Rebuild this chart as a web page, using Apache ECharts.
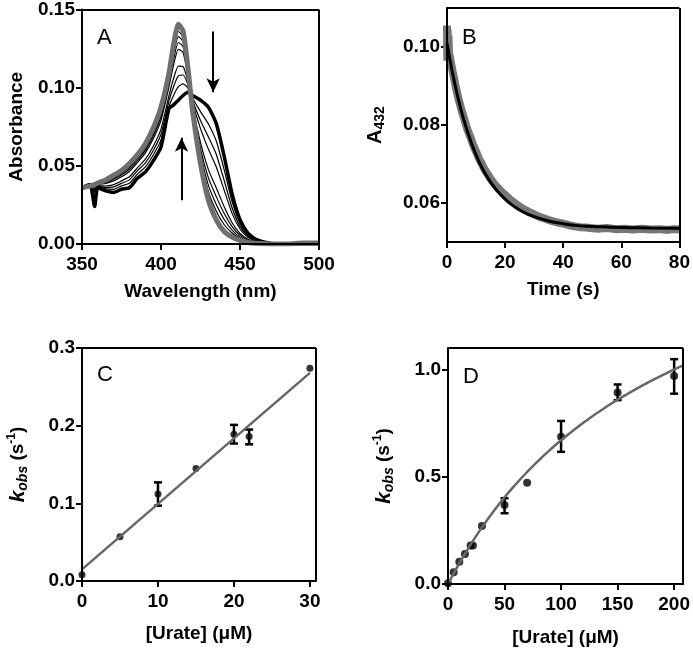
<!DOCTYPE html>
<html>
<head>
<meta charset="utf-8">
<script src="https://cdn.jsdelivr.net/npm/echarts@6/dist/echarts.min.js"></script>
<style>
  html, body { margin: 0; padding: 0; background: #fff; }
  #main { width: 693px; height: 649px; }
</style>
</head>
<body>
<div id="main"></div>
<script>
// ---- panel A : spectra ----
const aWave = [350,355,358,360,365,370,375,380,385,390,395,400,405,408,411,414,417,420,425,430,435,440,445,450,455,460,470,480,490,500];
const aStart = [0.036,0.037,0.038,0.039,0.041,0.044,0.047,0.0515,0.057,0.064,0.074,0.0875,0.109,0.128,0.1405,0.136,0.113,0.085,0.0515,0.028,0.0155,0.008,0.0045,0.0023,0.001,0.0005,0,0,0.0006,0.0006];
const aEnd = [0.036,0.038,0.024,0.036,0.034,0.033,0.035,0.036,0.042,0.046,0.053,0.062,0.0865,0.089,0.092,0.095,0.097,0.095,0.092,0.0875,0.077,0.056,0.032,0.0155,0.007,0.003,0.0003,0,0,0];
const aMid = [
  [0.036,0.037,0.036,0.0387,0.0404,0.043,0.0459,0.0501,0.0557,0.0624,0.0721,0.0852,0.1067,0.1244,0.1361,0.1323,0.1116,0.0859,0.0551,0.0334,0.021,0.0123,0.007,0.0035,0.0015,0.0007,0,0,0.0005,0.0005],
  [0.036,0.037,0.036,0.0385,0.0399,0.0422,0.0451,0.049,0.0546,0.0611,0.0706,0.0834,0.1048,0.1216,0.1327,0.1294,0.1104,0.0866,0.058,0.0375,0.0253,0.0157,0.0089,0.0044,0.002,0.0009,0,0,0.0005,0.0005],
  [0.036,0.037,0.035,0.0383,0.0393,0.0414,0.0441,0.0478,0.0534,0.0597,0.069,0.0814,0.1028,0.1184,0.1289,0.1262,0.1092,0.0874,0.0612,0.0423,0.0303,0.0195,0.0111,0.0055,0.0024,0.0011,0,0,0.0004,0.0004],
  [0.036,0.037,0.035,0.038,0.0387,0.0404,0.043,0.0464,0.052,0.0581,0.0671,0.0791,0.1004,0.1148,0.1245,0.1225,0.1077,0.0883,0.0649,0.0476,0.0358,0.0238,0.0136,0.0067,0.003,0.0013,0,0,0.0003,0.0003],
  [0.036,0.0375,0.034,0.0374,0.0371,0.038,0.0404,0.043,0.0487,0.0541,0.0624,0.0735,0.0947,0.106,0.1138,0.1134,0.1042,0.0905,0.0738,0.0607,0.0493,0.0344,0.0196,0.0096,0.0043,0.0019,0.0002,0,0.0002,0.0002],
  [0.036,0.0377,0.033,0.037,0.0362,0.0365,0.0388,0.041,0.0468,0.0518,0.0597,0.0702,0.0913,0.1008,0.1075,0.1081,0.1021,0.0918,0.079,0.0685,0.0573,0.0406,0.0232,0.0113,0.0051,0.0022,0.0002,0,0,0],
  [0.036,0.0378,0.031,0.0365,0.0353,0.035,0.0372,0.0388,0.0447,0.0492,0.0568,0.0666,0.0877,0.0952,0.1007,0.1024,0.0999,0.0932,0.0847,0.0768,0.0659,0.0474,0.0271,0.0131,0.0059,0.0026,0.0003,0,0,0]
];
const aArrowDown = [[433, 0.136], [433, 0.097]];
const aArrowUp = [[413, 0.028], [413, 0.068]];

// ---- panel B : absorbance at 432 nm vs time ----
const bTime = [0,0.1,0.2,0.3,0.5,0.7,1,2,3,4,5,6,7,8,9,10,11,12,13,14,15,16,17,18,19,20,22,24,26,28,30,32,34,36,38,40,42,44,46,48,50,52,55,58,61,64,67,70,73,76,78,80];
const bAbs = [0.1055,0.0965,0.1045,0.0975,0.103,0.0985,0.099,0.0935,0.0898,0.0866,0.0838,0.0814,0.0789,0.077,0.0749,0.0732,0.0714,0.07,0.0685,0.0674,0.0662,0.0652,0.0643,0.0635,0.0627,0.0621,0.0607,0.0596,0.0586,0.0578,0.0571,0.0564,0.0559,0.0554,0.055,0.0547,0.0543,0.054,0.0538,0.0537,0.0535,0.0534,0.0536,0.0533,0.0534,0.0532,0.0534,0.0532,0.0533,0.0531,0.0533,0.0532];
const bFitTime = [0,1,2,3,4,5,6,8,10,12,14,16,18,20,22,25,28,30,35,40,45,50,60,70,80];
const bFitAbs = [0.101,0.0968,0.093,0.0895,0.0863,0.0834,0.0808,0.0762,0.0723,0.0691,0.0665,0.0643,0.0625,0.061,0.0597,0.0582,0.0571,0.0565,0.0554,0.0547,0.0542,0.054,0.0537,0.0536,0.0535];

// ---- panel C : kobs vs [urate], low range ----
const cUrate = [0,5,10,15,20,22,30];
const cKobs = [0.008,0.057,0.112,0.145,0.189,0.186,0.274];
const cErrUrate = [10,20,22];
const cErrLow = [0.097,0.177,0.176];
const cErrHigh = [0.127,0.201,0.195];
const cFitUrate = [0,30];
const cFitKobs = [0.015,0.268];

// ---- panel D : kobs vs [urate], full range ----
const dUrate = [0,5,10,15,20,22,30,50,70,100,150,200];
const dKobs = [0.003,0.055,0.104,0.14,0.18,0.18,0.27,0.368,0.472,0.686,0.893,0.969];
const dErrUrate = [50,100,150,200];
const dErrLow = [0.33,0.616,0.857,0.887];
const dErrHigh = [0.40,0.76,0.93,1.048];
const dFitUrate = [0,10,20,30,40,50,60,70,80,90,100,120,140,160,180,200,208];
const dFitKobs = [0,0.0966,0.184,0.264,0.337,0.404,0.465,0.522,0.575,0.624,0.67,0.753,0.826,0.89,0.948,1.0,1.019];

// axis ranges and ticks
const aXTicks = [350, 400, 450, 500], aYTicks = [0, 0.05, 0.1, 0.15];
const bXTicks = [0, 20, 40, 60, 80], bYTicks = [0.06, 0.08, 0.1];
const cXTicks = [0, 10, 20, 30], cYTicks = [0, 0.1, 0.2, 0.3];
const dXTicks = [0, 50, 100, 150, 200], dYTicks = [0, 0.5, 1.0];

const FONT = '"Liberation Sans", Arial, sans-serif';
const zip = (xs, ys) => xs.map((x, i) => [x, ys[i]]);
const zip3 = (xs, lo, hi) => xs.map((x, i) => [x, lo[i], hi[i]]);

function axis(gridIndex, min, max, ticks, digits, name, gap, labelMargin, rich) {
  return {
    type: 'value', gridIndex, min, max,
    name, nameLocation: 'middle', nameGap: gap,
    nameTextStyle: { fontFamily: FONT, fontWeight: 'bold', fontSize: 19, color: '#000', rich: rich },
    axisLine: { show: true, onZero: false, lineStyle: { color: '#000', width: 2 } },
    axisTick: { show: true, length: 6, lineStyle: { color: '#000', width: 2 }, customValues: ticks },
    axisLabel: {
      customValues: ticks, margin: labelMargin,
      formatter: v => v.toFixed(digits),
      fontFamily: FONT, fontWeight: 'bold', fontSize: 19, color: '#000'
    },
    splitLine: { show: false }
  };
}

// the four sides of a panel's box, as markLines on an invisible helper series
function boxSeries(gridIndex, xr, yr) {
  return {
    type: 'line', xAxisIndex: gridIndex, yAxisIndex: gridIndex,
    data: [[xr[0], yr[0]], [xr[1], yr[1]]],
    showSymbol: false, silent: true, lineStyle: { opacity: 0 },
    markLine: {
      silent: true, symbol: ['none', 'none'],
      label: { show: false },
      lineStyle: { color: '#000', width: 2, type: 'solid' },
      data: [
        [{ coord: [xr[0], yr[0]] }, { coord: [xr[1], yr[0]] }],
        [{ coord: [xr[0], yr[1]] }, { coord: [xr[1], yr[1]] }],
        [{ coord: [xr[0], yr[0]] }, { coord: [xr[0], yr[1]] }],
        [{ coord: [xr[1], yr[0]] }, { coord: [xr[1], yr[1]] }]
      ]
    }
  };
}

const kobsRich = {
  k: { fontFamily: FONT, fontWeight: 'bold', fontStyle: 'italic', fontSize: 21, color: '#000', lineHeight: 24, verticalAlign: 'middle' },
  sub: { fontFamily: FONT, fontWeight: 'bold', fontStyle: 'italic', fontSize: 14, color: '#000', lineHeight: 12, verticalAlign: 'bottom' },
  n: { fontFamily: FONT, fontWeight: 'bold', fontSize: 19, color: '#000', lineHeight: 24, verticalAlign: 'middle' },
  sup: { fontFamily: FONT, fontWeight: 'bold', fontSize: 12, color: '#000', lineHeight: 10, verticalAlign: 'top' }
};
const a432Rich = {
  n: { fontFamily: FONT, fontWeight: 'bold', fontSize: 20, color: '#000', lineHeight: 24, verticalAlign: 'middle' },
  sub: { fontFamily: FONT, fontWeight: 'bold', fontSize: 14, color: '#000', lineHeight: 12, verticalAlign: 'bottom' }
};
const KOBS = '{k|k}{sub|obs}{n| (s}{sup|-1}{n|)}';

function errRender(params, api) {
  const x = api.value(0);
  const p1 = api.coord([x, api.value(1)]);
  const p2 = api.coord([x, api.value(2)]);
  const w = 4;
  const style = { stroke: '#000', lineWidth: 2.5 };
  return {
    type: 'group',
    children: [
      { type: 'line', shape: { x1: p1[0], y1: p1[1], x2: p2[0], y2: p2[1] }, style },
      { type: 'line', shape: { x1: p1[0] - w, y1: p1[1], x2: p1[0] + w, y2: p1[1] }, style },
      { type: 'line', shape: { x1: p2[0] - w, y1: p2[1], x2: p2[0] + w, y2: p2[1] }, style }
    ]
  };
}

const chart = echarts.init(document.getElementById('main'));

// thin intermediate spectra first, then the end (black) and start (grey) spectra on top
const spectraSeries = [];
aMid.forEach(row => spectraSeries.push({
  type: 'line', xAxisIndex: 0, yAxisIndex: 0, data: zip(aWave, row),
  showSymbol: false, smooth: 0.2, lineStyle: { color: '#000', width: 1.2 }
}));
spectraSeries.push({
  type: 'line', xAxisIndex: 0, yAxisIndex: 0, data: zip(aWave, aEnd),
  showSymbol: false, smooth: 0.2, lineStyle: { color: '#000', width: 3.5 }
});
spectraSeries.push({
  type: 'line', xAxisIndex: 0, yAxisIndex: 0, data: zip(aWave, aStart),
  showSymbol: false, smooth: 0.2, lineStyle: { color: '#6f6f6f', width: 5 },
  markLine: {
    silent: true, symbol: ['none', 'arrow'], symbolSize: [10, 14],
    label: { show: false },
    lineStyle: { color: '#000', width: 2, type: 'solid' },
    data: [
      [{ coord: aArrowDown[0] }, { coord: aArrowDown[1] }],
      [{ coord: aArrowUp[0] }, { coord: aArrowUp[1] }]
    ]
  }
});

const letterStyle = { fontFamily: FONT, fontWeight: 'normal', fontSize: 22, color: '#000' };

const option = {
  animation: false,
  title: [
    { text: 'A', left: 97, top: 27, textStyle: letterStyle, padding: 0 },
    { text: 'B', left: 462, top: 27, textStyle: letterStyle, padding: 0 },
    { text: 'C', left: 97, top: 364, textStyle: letterStyle, padding: 0 },
    { text: 'D', left: 463, top: 366, textStyle: letterStyle, padding: 0 }
  ],
  grid: [
    { left: 82, top: 8, width: 237, height: 236 },
    { left: 447, top: 8, width: 235, height: 234 },
    { left: 82, top: 348, width: 234, height: 233 },
    { left: 448, top: 348, width: 236, height: 236 }
  ],
  xAxis: [
    axis(0, 350, 500, aXTicks, 0, 'Wavelength (nm)', 38, 11),
    axis(1, 0, 80, bXTicks, 0, 'Time (s)', 38, 11),
    axis(2, 0, 30.8, cXTicks, 0, '[Urate] (\u03bcM)', 43, 11),
    axis(3, 0, 208, dXTicks, 0, '[Urate] (\u03bcM)', 44, 11)
  ],
  yAxis: [
    axis(0, 0, 0.15, aYTicks, 2, 'Absorbance', 56, 7),
    axis(1, 0.05, 0.11, bYTicks, 2, '{n|A}{sub|432}', 60, 7, a432Rich),
    axis(2, 0, 0.3, cYTicks, 1, KOBS, 52, 7, kobsRich),
    axis(3, 0, 1.1, dYTicks, 1, KOBS, 52, 7, kobsRich)
  ],
  series: spectraSeries.concat([
    boxSeries(0, [350, 500], [0, 0.15]),
    boxSeries(1, [0, 80], [0.05, 0.11]),
    boxSeries(2, [0, 30.8], [0, 0.3]),
    boxSeries(3, [0, 208], [0, 1.1]),
    {
      type: 'line', xAxisIndex: 1, yAxisIndex: 1, data: zip(bTime, bAbs),
      showSymbol: false, lineStyle: { color: '#777', width: 8 }
    },
    {
      type: 'line', xAxisIndex: 1, yAxisIndex: 1, data: zip(bFitTime, bFitAbs),
      showSymbol: false, smooth: true, lineStyle: { color: '#000', width: 3 }
    },
    {
      type: 'line', xAxisIndex: 2, yAxisIndex: 2, data: zip(cFitUrate, cFitKobs),
      showSymbol: false, lineStyle: { color: '#666', width: 2.5 }
    },
    {
      type: 'custom', xAxisIndex: 2, yAxisIndex: 2, data: zip3(cErrUrate, cErrLow, cErrHigh),
      renderItem: errRender, encode: { x: 0, y: [1, 2] }
    },
    {
      type: 'scatter', xAxisIndex: 2, yAxisIndex: 2, data: zip(cUrate, cKobs),
      symbol: 'circle', symbolSize: 7, itemStyle: { color: '#000' }
    },
    {
      type: 'line', xAxisIndex: 3, yAxisIndex: 3, data: zip(dFitUrate, dFitKobs),
      showSymbol: false, smooth: true, lineStyle: { color: '#666', width: 2.5 }
    },
    {
      type: 'custom', xAxisIndex: 3, yAxisIndex: 3, data: zip3(dErrUrate, dErrLow, dErrHigh),
      renderItem: errRender, encode: { x: 0, y: [1, 2] }
    },
    {
      type: 'scatter', xAxisIndex: 3, yAxisIndex: 3, data: zip(dUrate, dKobs),
      symbol: 'circle', symbolSize: 8, itemStyle: { color: '#000' }
    }
  ])
};

chart.setOption(option);
</script>
</body>
</html>
